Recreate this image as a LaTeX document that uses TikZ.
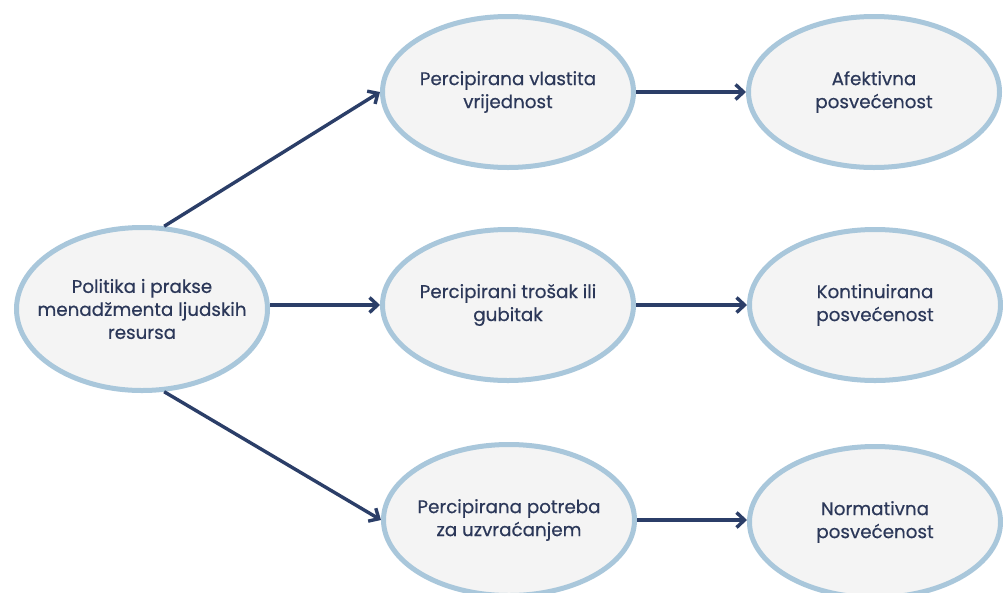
\documentclass[tikz,border=0pt]{standalone}
\usepackage{fontspec}
\setmainfont{Poppins}[FakeBold=0.5]
\usetikzlibrary{shapes.geometric,arrows.meta}
\definecolor{ringblue}{HTML}{A9C7DB}
\definecolor{fillgrey}{HTML}{F4F4F4}
\definecolor{navy}{HTML}{2B3E68}
\definecolor{txt}{HTML}{2C3859}
\begin{document}
\begin{tikzpicture}[x=1pt,y=-1pt,
  bubble/.style={ellipse, draw=ringblue, fill=fillgrey, line width=5pt,
    minimum width=251pt, minimum height=151pt, inner xsep=-45pt, inner ysep=0pt, align=center,
    text=txt, font=\fontsize{18.3}{23}\selectfont},
  big/.style={bubble, minimum height=163pt},
  link/.style={draw=navy, line width=3.4pt, -{Straight Barb[length=8pt,width=15pt]}}]
\fill[white] (0,0) rectangle (1003,592);
\useasboundingbox (0,0) rectangle (1003,592);
\node[big] (hr) at (142,309) {Politika i prakse\\menadžmenta ljudskih\\resursa};
\node[bubble] (pv) at (508,92) {Percipirana vlastita\\vrijednost};
\node[bubble] (pt) at (508,305) {Percipirani trošak ili\\gubitak};
\node[bubble] (pp) at (509,520) {Percipirana potreba\\za uzvraćanjem};
\node[bubble] (af) at (874,92) {Afektivna\\posvećenost};
\node[bubble] (ko) at (875,305) {Kontinuirana\\posvećenost};
\node[bubble] (no) at (875,522) {Normativna\\posvećenost};
\draw[link] (hr.75) -- (pv.west);
\draw[link] (hr.east |- pt.west) -- (pt.west);
\draw[link] (hr.-75) -- (pp.west);
\draw[link] (pv.east) -- (af.west);
\draw[link] (pt.east) -- (ko.west);
\draw[link] (pp.east) -- (no.west |- pp.east);
\end{tikzpicture}
\end{document}
